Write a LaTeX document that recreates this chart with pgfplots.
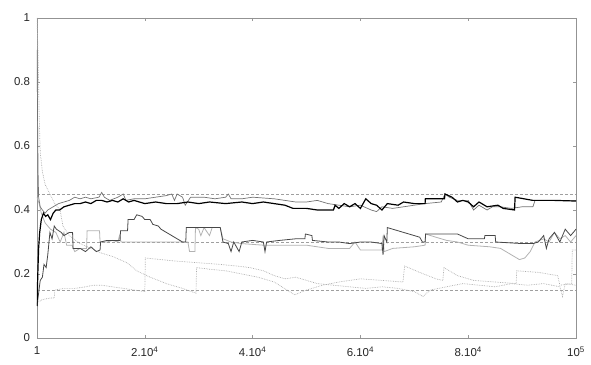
\documentclass[border=0pt]{standalone}
\usepackage{fontspec}
\setmainfont{Liberation Sans}
\usepackage{pgfplots}
\pgfplotsset{compat=1.18}
\begin{document}
\fontsize{11.5}{13}\selectfont
\begin{tikzpicture}
\useasboundingbox (0,0) rectangle (591bp,365bp);
\begin{axis}[
  at={(37bp,27bp)}, anchor=south west,
  scale only axis, width=539bp, height=320bp,
  xmin=1, xmax=100000, ymin=0, ymax=1,
  axis line style={gray!85, line width=0.6pt},
  tick style={gray!80, line width=0.4pt},
  tick align=inside, major tick length=3pt,
  xtick={1,20000,40000,60000,80000,100000},
  xticklabels={1,2.10\textsuperscript{4},4.10\textsuperscript{4},6.10\textsuperscript{4},8.10\textsuperscript{4},10\textsuperscript{5}},
  ytick={0,0.2,0.4,0.6,0.8,1},
  yticklabels={0,0.2,0.4,0.6,0.8,1},
  scaled x ticks=false,
  ticklabel style={font=\fontsize{11.5}{13}\selectfont, text=black!85},
  xticklabel style={yshift=-5pt},
  yticklabel style={xshift=-3pt},
  clip=true,
]
% reference levels
\addplot[gray!75, dashed, dash pattern=on 3pt off 2pt, line width=0.5pt] coordinates {(1,0.45) (100000,0.45)};
\addplot[gray!75, dashed, dash pattern=on 3pt off 2pt, line width=0.5pt] coordinates {(1,0.30) (100000,0.30)};
\addplot[gray!75, dashed, dash pattern=on 3pt off 2pt, line width=0.5pt] coordinates {(1,0.15) (100000,0.15)};
% dotted E
\addplot[gray!65, densely dotted, line width=0.7pt] coordinates {
(1,1.0) (200,0.88) (400,0.70) (600,0.58) (1000,0.52) (1500,0.48) (2400,0.45) (3300,0.42) (4300,0.40) (4800,0.35) (6000,0.32) (8000,0.295) (10000,0.28) (12000,0.265) (14000,0.255) (16700,0.235) (18500,0.21) (21000,0.19) (24000,0.17) (27000,0.155) (29500,0.14) (29600,0.22) (32000,0.215) (35000,0.21) (38000,0.20) (41000,0.19) (44000,0.175) (47800,0.135) (50000,0.15) (53000,0.165) (56000,0.175) (60000,0.185) (64000,0.18) (67900,0.175) (68200,0.225) (71000,0.205) (74000,0.185) (75300,0.18) (75500,0.22) (78000,0.195) (81000,0.18) (85000,0.175) (88900,0.17) (89000,0.21) (93000,0.205) (96600,0.195) (97000,0.165) (99200,0.17) (99300,0.275) (100000,0.275)};
% dotted F
\addplot[gray!65, densely dotted, line width=0.7pt] coordinates {
(1,0.11) (1000,0.12) (2500,0.125) (3200,0.125) (3300,0.15) (5000,0.155) (7000,0.155) (9000,0.16) (10500,0.165) (12000,0.165) (14000,0.16) (16000,0.155) (18000,0.15) (20000,0.145) (20100,0.25) (23000,0.245) (26000,0.24) (30000,0.235) (34000,0.23) (37000,0.225) (39500,0.22) (42000,0.21) (44000,0.195) (46000,0.185) (48000,0.19) (50000,0.18) (52000,0.17) (55000,0.165) (58000,0.16) (61000,0.155) (64000,0.16) (67000,0.155) (70000,0.145) (71600,0.13) (73000,0.15) (76000,0.16) (79000,0.17) (82000,0.165) (85000,0.16) (88000,0.17) (91000,0.165) (94000,0.17) (97000,0.16) (97500,0.13) (98000,0.17) (100000,0.165)};
% light gray D
\addplot[gray!60, line width=0.8pt] coordinates {
(1,0.44) (400,0.42) (800,0.39) (1500,0.36) (2500,0.34) (3500,0.33) (4300,0.30) (5000,0.33) (5500,0.29) (6500,0.29) (7000,0.27) (8000,0.28) (9200,0.28) (9300,0.335) (11600,0.335) (11700,0.30) (13000,0.30) (14000,0.305) (15000,0.30) (15300,0.32) (15600,0.30) (17000,0.30) (20000,0.30) (24000,0.30) (28000,0.30) (28300,0.27) (29300,0.27) (29400,0.345) (30000,0.34) (30400,0.32) (31000,0.345) (32000,0.32) (32500,0.345) (34000,0.345) (34500,0.31) (36000,0.30) (38000,0.295) (42000,0.29) (46000,0.29) (50000,0.29) (52000,0.285) (54000,0.28) (56000,0.28) (58000,0.28) (59000,0.30) (60000,0.275) (64000,0.275) (64200,0.32) (64400,0.27) (66000,0.28) (70000,0.285) (72000,0.29) (72100,0.325) (74000,0.315) (76000,0.305) (78000,0.30) (80000,0.29) (84000,0.285) (86000,0.28) (88000,0.26) (89500,0.245) (90500,0.25) (91500,0.27) (92400,0.30) (94000,0.31) (95000,0.30) (96000,0.33) (97000,0.31) (98000,0.32) (99000,0.30) (100000,0.32)};
% dark gray C
\addplot[black!72, line width=0.8pt] coordinates {
(1,0.10) (300,0.14) (600,0.18) (1000,0.19) (1300,0.23) (1700,0.22) (2000,0.26) (2400,0.33) (2800,0.31) (3200,0.35) (3600,0.34) (4500,0.33) (5000,0.32) (6000,0.33) (6600,0.33) (6700,0.28) (8000,0.28) (9000,0.27) (10000,0.285) (11000,0.27) (11700,0.275) (11800,0.30) (13000,0.305) (15400,0.305) (15500,0.335) (16800,0.335) (16900,0.37) (18000,0.37) (18500,0.385) (19500,0.38) (20000,0.37) (21000,0.37) (21500,0.355) (22500,0.35) (23000,0.34) (24000,0.33) (25000,0.32) (26000,0.31) (27000,0.30) (27600,0.30) (27700,0.345) (30000,0.345) (34000,0.345) (34500,0.30) (35500,0.295) (36000,0.27) (36500,0.30) (37500,0.27) (38000,0.30) (40000,0.305) (42000,0.30) (42300,0.27) (42600,0.30) (45000,0.305) (48000,0.31) (49700,0.31) (49800,0.325) (51000,0.32) (51100,0.305) (54000,0.30) (56000,0.30) (58000,0.295) (60000,0.30) (62000,0.30) (64000,0.295) (64200,0.26) (64400,0.32) (64900,0.30) (65000,0.345) (68000,0.33) (71000,0.315) (71500,0.30) (72000,0.30) (72100,0.325) (78000,0.325) (80000,0.31) (83000,0.31) (83100,0.32) (85000,0.32) (85100,0.30) (90000,0.295) (92000,0.295) (93000,0.30) (94000,0.32) (94500,0.28) (95000,0.31) (96000,0.33) (97000,0.30) (98000,0.34) (99000,0.32) (100000,0.34)};
% gray B
\addplot[black!55, line width=0.7pt] coordinates {
(1,0.90) (100,0.70) (200,0.52) (300,0.44) (600,0.41) (1000,0.40) (1500,0.39) (2000,0.40) (3000,0.41) (4000,0.42) (5000,0.425) (6000,0.43) (7000,0.44) (8000,0.435) (9000,0.44) (10000,0.435) (11500,0.44) (12000,0.455) (12500,0.44) (13500,0.43) (15000,0.44) (16000,0.45) (16500,0.43) (18000,0.435) (20000,0.435) (22000,0.44) (24000,0.445) (25000,0.45) (25500,0.43) (26000,0.45) (27000,0.44) (27500,0.415) (28500,0.44) (31000,0.44) (33000,0.435) (35000,0.44) (35500,0.45) (36000,0.435) (38000,0.435) (40000,0.44) (44000,0.435) (46000,0.43) (48000,0.425) (50000,0.425) (52000,0.43) (54000,0.42) (56000,0.415) (58000,0.41) (60000,0.415) (62000,0.40) (63000,0.395) (64000,0.41) (66000,0.405) (68000,0.41) (70000,0.415) (72000,0.42) (75000,0.425) (75700,0.45) (76500,0.44) (78000,0.43) (80000,0.43) (81000,0.40) (82000,0.415) (83500,0.40) (84500,0.41) (86000,0.41) (88000,0.405) (90000,0.41) (92000,0.41) (92400,0.43) (95000,0.43) (100000,0.43)};
% black A
\addplot[black, line width=1.2pt] coordinates {
(1,0.10) (150,0.20) (300,0.28) (500,0.33) (800,0.37) (1200,0.39) (1600,0.38) (2000,0.385) (2500,0.37) (3000,0.39) (3500,0.40) (4200,0.40) (5000,0.41) (6000,0.415) (7000,0.42) (8000,0.42) (9000,0.425) (10000,0.42) (11000,0.43) (12000,0.43) (13000,0.425) (14000,0.43) (15000,0.425) (16000,0.435) (17000,0.425) (18000,0.43) (20000,0.42) (22000,0.425) (24000,0.42) (26000,0.42) (28000,0.425) (30000,0.42) (32000,0.425) (35000,0.42) (38000,0.425) (40000,0.42) (42000,0.425) (44000,0.42) (46000,0.415) (47500,0.405) (50000,0.405) (52000,0.40) (55000,0.40) (55300,0.415) (56000,0.405) (57000,0.42) (58000,0.41) (59000,0.42) (60000,0.405) (61000,0.435) (62000,0.42) (63000,0.415) (64000,0.40) (65000,0.42) (67000,0.415) (68000,0.425) (70000,0.42) (72000,0.42) (72050,0.435) (75600,0.435) (75700,0.45) (77000,0.44) (78000,0.425) (79000,0.43) (80000,0.425) (81000,0.41) (82000,0.425) (83500,0.41) (85500,0.415) (86500,0.405) (88600,0.40) (88700,0.44) (92000,0.43) (96000,0.43) (100000,0.428)};
\end{axis}
\end{tikzpicture}
\end{document}
